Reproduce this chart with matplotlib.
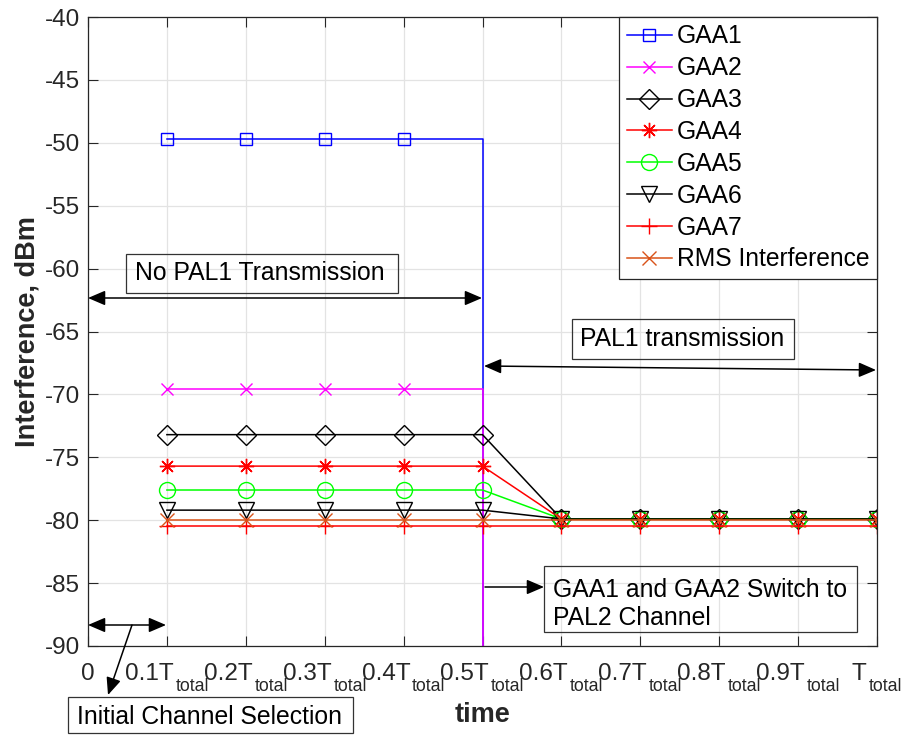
import matplotlib
matplotlib.use("Agg")
import matplotlib.pyplot as plt
from matplotlib.patches import Rectangle

plt.rcParams['font.family'] = ['Liberation Sans', 'DejaVu Sans']
plt.rcParams['axes.unicode_minus'] = False

# data
t = [0.1, 0.2, 0.3, 0.4, 0.5, 0.6, 0.7, 0.8, 0.9, 1.0]
t_switch = [0.1, 0.2, 0.3, 0.4, 0.5, 0.5]   # GAA1/GAA2 leave the channel at 0.5T
gaa1 = [-49.7, -49.7, -49.7, -49.7, -49.7, -150]
gaa2 = [-69.6, -69.6, -69.6, -69.6, -69.6, -150]
gaa3 = [-73.2, -73.2, -73.2, -73.2, -73.2, -79.9, -79.9, -79.9, -79.9, -79.9]
gaa4 = [-75.7, -75.7, -75.7, -75.7, -75.7, -79.9, -79.9, -79.9, -79.9, -79.9]
gaa5 = [-77.6, -77.6, -77.6, -77.6, -77.6, -79.9, -79.9, -79.9, -79.9, -79.9]
gaa6 = [-79.2, -79.2, -79.2, -79.2, -79.2, -79.9, -79.9, -79.9, -79.9, -79.9]
gaa7 = [-80.5, -80.5, -80.5, -80.5, -80.5, -80.5, -80.5, -80.5, -80.5, -80.5]
rms = [-80.0, -80.0, -80.0, -80.0, -80.0, -80.0, -80.0, -80.0, -80.0, -80.0]

xticks = [0, 0.1, 0.2, 0.3, 0.4, 0.5, 0.6, 0.7, 0.8, 0.9, 1.0]
xtick_main = ["0", "0.1T", "0.2T", "0.3T", "0.4T", "0.5T", "0.6T", "0.7T", "0.8T", "0.9T", "T"]
xtick_sub = ["", "total", "total", "total", "total", "total", "total", "total", "total", "total", "total"]
yticks = [-90, -85, -80, -75, -70, -65, -60, -55, -50, -45, -40]

W, H = 904, 735
fig = plt.figure(figsize=(W / 100, H / 100), dpi=100)
ax = fig.add_axes([88 / W, 1 - 646 / H, (877 - 88) / W, (646 - 17) / H])


def fp(px, py):
    # figure pixel (from top-left) to figure fraction
    return (px / W, 1 - py / H)


lw = 1.1
ax.plot(t_switch, gaa1, color='blue', marker='s', ms=9, mfc='none', lw=lw,
        markevery=[0, 1, 2, 3], label='GAA1')
ax.plot(t_switch, gaa2, color='magenta', marker='x', ms=9, lw=lw,
        markevery=[0, 1, 2, 3], label='GAA2')
ax.plot(t, gaa3, color='black', marker='D', ms=10, mfc='none', lw=lw, label='GAA3')
ax.plot(t, gaa4, color='red', marker=(8, 2, 0), ms=11, lw=lw, label='GAA4')
ax.plot(t, gaa5, color='#00ff00', marker='o', ms=11.5, mfc='none', lw=lw, label='GAA5')
ax.plot(t, gaa6, color='black', marker='v', ms=12, mfc='none', lw=lw, label='GAA6')
ax.plot(t, gaa7, color='red', marker='+', ms=11, lw=lw, label='GAA7')
ax.plot(t, rms, color='#D95319', marker='x', ms=10, lw=lw, label='RMS Interference')

ax.set_xlim(0, 1)
ax.set_ylim(-90, -40)
ax.set_xticks(xticks)
ax.set_xticklabels([])
ax.set_yticks(yticks)
ax.tick_params(direction='in', length=7, width=0.8, colors='#262626',
               labelsize=17.5, labelcolor='#262626', top=True, right=True)
ax.tick_params(axis='y', pad=6)
ax.grid(True, color='#e3e3e3', lw=0.9)
ax.set_axisbelow(True)
for s in ax.spines.values():
    s.set_color('#262626')
    s.set_linewidth(0.9)

# x tick labels "0.1T" with a deep "total" subscript, centred on each tick
renderer = fig.canvas.get_renderer()
px2pt = 72 / 100
for x, main, sub in zip(xticks, xtick_main, xtick_sub):
    tm = ax.annotate(main, xy=(x, 0), xycoords=ax.get_xaxis_transform(),
                     xytext=(0, -34 * px2pt), textcoords='offset points',
                     ha='left', va='baseline', fontsize=17.5, color='#262626',
                     annotation_clip=False)
    ts = ax.annotate(sub, xy=(x, 0), xycoords=ax.get_xaxis_transform(),
                     xytext=(0, -45 * px2pt), textcoords='offset points',
                     ha='left', va='baseline', fontsize=12.8, color='#262626',
                     annotation_clip=False)
    wm = tm.get_window_extent(renderer).width
    ws = ts.get_window_extent(renderer).width if sub else 0
    gap = 2 if sub else 0
    left = -(wm + gap + ws) / 2
    tm.set_position((left * px2pt, -34 * px2pt))
    ts.set_position(((left + wm + gap) * px2pt, -45 * px2pt))

ax.set_xlabel('time', fontsize=19.5, fontweight='bold', color='#262626')
ax.xaxis.set_label_coords(0.5, (646 - 715) / (646 - 17))
ax.xaxis.label.set_verticalalignment('center')
ax.set_ylabel('Interference, dBm', fontsize=19.5, fontweight='bold', color='#262626', labelpad=3)

leg = ax.legend(loc='upper right', borderaxespad=0, fontsize=17.7, fancybox=False,
                framealpha=1, edgecolor='#262626', handlelength=1.85, handletextpad=0.2,
                labelspacing=0.32, borderpad=0.3)
leg.get_frame().set_linewidth(0.9)

# annotation boxes (figure pixel positions)
boxes = [
    ((126, 254), (398, 293)),
    ((572, 319), (794, 359)),
    ((544, 566), (857, 632)),
    ((68, 697), (353, 733)),
]
for (x0, y0), (x1, y1) in boxes:
    fig.patches.append(Rectangle(fp(x0, y1), (x1 - x0) / W, (y1 - y0) / H,
                                 transform=fig.transFigure, fill=False,
                                 ec='#333333', lw=0.9))

tkw = dict(fontsize=17.8, ha='left', va='center', color='black')
fig.text(*fp(135, 273), 'No PAL1 Transmission', **tkw)
fig.text(*fp(580, 339), 'PAL1 transmission', **tkw)
fig.text(*fp(553, 604), 'GAA1 and GAA2 Switch to\nPAL2 Channel', linespacing=1.25, **tkw)
fig.text(*fp(77, 717), 'Initial Channel Selection', **tkw)

dbl = dict(arrowstyle='<|-|>,head_length=0.7,head_width=0.3', color='black',
           lw=1.1, shrinkA=0, shrinkB=0, mutation_scale=15)
one = dict(arrowstyle='-|>,head_length=0.7,head_width=0.3', color='black',
           lw=1.1, shrinkA=0, shrinkB=0, mutation_scale=15)
arrows = [
    (dbl, (88, 298), (482, 298)),
    (dbl, (484, 366), (876, 370)),
    (one, (485, 587), (544, 587)),
    (dbl, (88, 625), (166, 625)),
    (one, (132, 625), (108, 695)),
]
for style, a, b in arrows:
    ax.annotate('', xy=fp(*b), xytext=fp(*a), xycoords='figure fraction',
                textcoords='figure fraction', arrowprops=style, annotation_clip=False)

fig.savefig('out.png', dpi=100)
